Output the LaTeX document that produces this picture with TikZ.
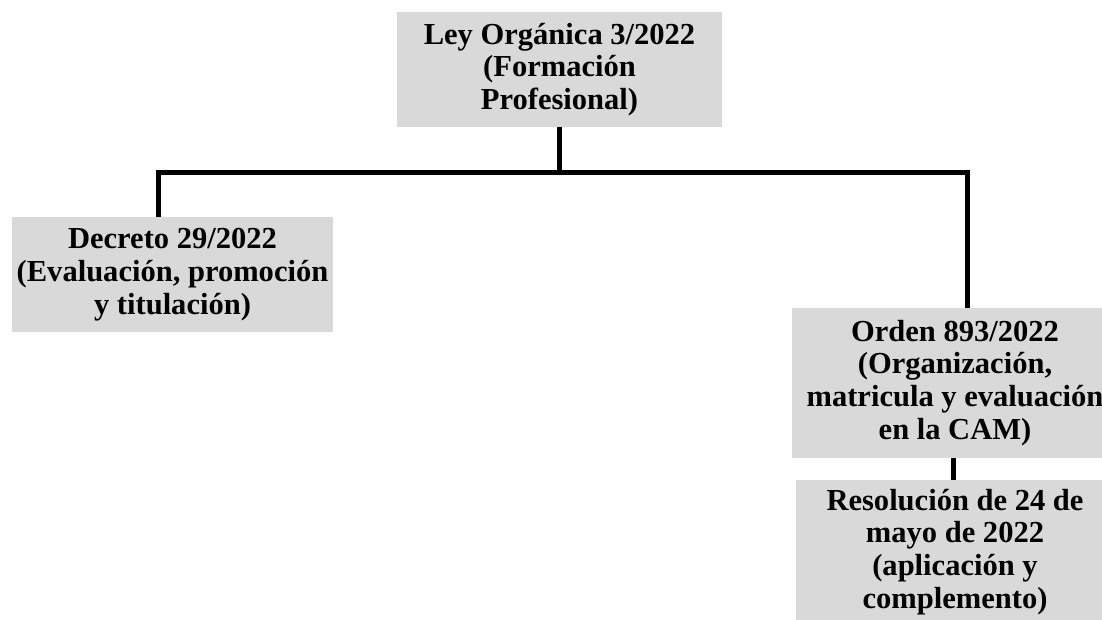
\documentclass[tikz,border=0pt]{standalone}
\usepackage{fontspec}
\setmainfont{Liberation Serif}
\definecolor{boxgray}{HTML}{D9D9D9}
\begin{document}
\begin{tikzpicture}[x=0.75pt,y=-0.75pt,
  lawbox/.style={fill=boxgray, draw=none, align=center, inner sep=0pt,
    font=\fontsize{22.9}{24.6}\selectfont\bfseries},
  conn/.style={line width=3.75pt, line join=miter, black}]
\useasboundingbox (0,0) rectangle (1102,620);
\clip (0,0) rectangle (1102,620);
\fill[white] (0,0) rectangle (1102,620);

\node[lawbox, minimum width=243.75pt, minimum height=86.25pt] (top) at (559.5,69.5)
  {Ley Orgánica 3/2022\\(Formación\\Profesional)};
\node[lawbox, minimum width=240.75pt, minimum height=86.25pt] (dec) at (172.5,274.5)
  {Decreto 29/2022\\(Evaluación, promoción\\y titulación)};
\node[lawbox, minimum width=244.5pt, minimum height=112.5pt] (ord) at (955,383)
  {Orden 893/2022\\(Organización,\\matricula y evaluación\\en la CAM)};
\node[lawbox, minimum width=238.5pt, minimum height=108pt] (res) at (955,552)
  {Resolución de 24 de\\mayo de 2022\\(aplicación y\\complemento)};

\coordinate (bl) at (158,173);
\coordinate (br) at (967,173);
\draw[conn] (top.south) -- (top.south |- bl);
\draw[conn] (bl |- dec.north) -- (bl) -- (br) -- (br |- ord.north);
\draw[conn] ([xshift=-1.5pt]ord.south) -- ([xshift=-1.5pt]res.north);
\end{tikzpicture}
\end{document}
